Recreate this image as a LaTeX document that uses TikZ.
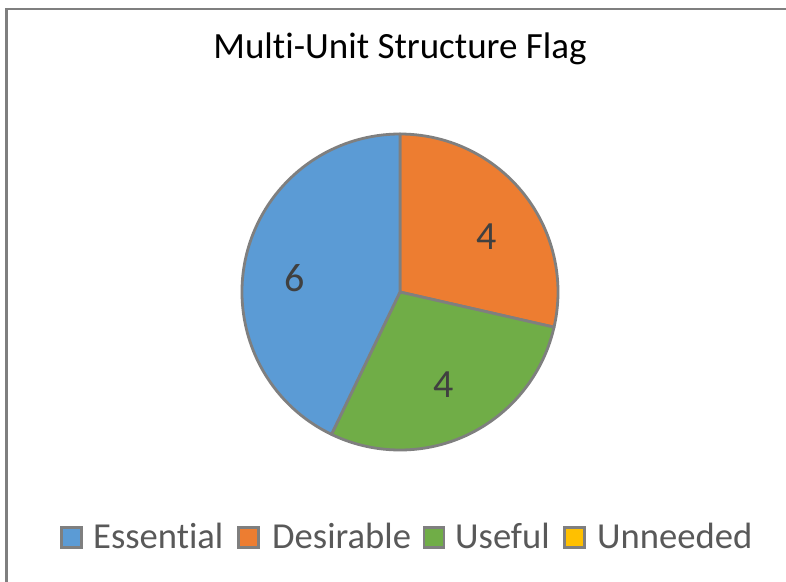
\documentclass[tikz,border=0pt]{standalone}
\usepackage{fontspec}
\setmainfont{Carlito}[Ligatures=NoCommon]
\definecolor{essblue}{HTML}{5B9BD5}
\definecolor{desorange}{HTML}{ED7D31}
\definecolor{usegreen}{HTML}{70AD47}
\definecolor{unyellow}{HTML}{FFC000}
\definecolor{edgegray}{HTML}{7F7F7F}
\definecolor{legtext}{HTML}{595959}
\definecolor{labtext}{HTML}{404040}
\tikzset{
  slice/.style={draw=edgegray, line width=2.8pt, line join=round},
  sq/.style={draw=edgegray, line width=2.8pt, minimum size=20pt, inner sep=0pt},
  legtxt/.style={text=legtext, font=\fontsize{36.6}{42}\selectfont, inner sep=0pt, anchor=base west},
  vallab/.style={text=labtext, font=\fontsize{40}{44}\selectfont, inner sep=0pt},
}
\begin{document}
\begin{tikzpicture}[x=1pt,y=-1pt]
\useasboundingbox (0,0) rectangle (786,581);
\fill[white] (0,0) rectangle (786,581);
\draw[edgegray, line width=2.8pt] (6.5,590) -- (6.5,9) -- (795,9);
\node[font=\fontsize{37}{42}\selectfont, anchor=base, inner sep=0pt] (title) at (400,58) {Multi-Unit Structure Flag};
\begin{scope}[shift={(400,292)}, y=1pt]
  \coordinate (c) at (0,0);
  \filldraw[slice, fill=desorange] (c) -- (90:158pt) arc[start angle=90, end angle=-12.857, radius=158pt] -- cycle;
  \filldraw[slice, fill=usegreen] (c) -- (-12.857:158pt) arc[start angle=-12.857, end angle=-115.714, radius=158pt] -- cycle;
  \filldraw[slice, fill=essblue] (c) -- (-115.714:158pt) arc[start angle=244.286, end angle=90, radius=158pt] -- cycle;
\end{scope}
\node[vallab] (l6) at (295,278) {6};
\node[vallab] (l4a) at (487,237) {4};
\node[vallab] (l4b) at (444,385) {4};
\node[sq, fill=essblue] (s1) at (71.5,537.5) {};
\node[legtxt] (t1) at (93,548) {Essential};
\node[sq, fill=desorange] (s2) at (248.5,537.5) {};
\node[legtxt] (t2) at (272,548) {Desirable};
\node[sq, fill=usegreen] (s3) at (434,537.5) {};
\node[legtxt] (t3) at (455,548) {Useful};
\node[sq, fill=unyellow] (s4) at (574.5,537.5) {};
\node[legtxt] (t4) at (597,548) {Unneeded};
\end{tikzpicture}
\end{document}
